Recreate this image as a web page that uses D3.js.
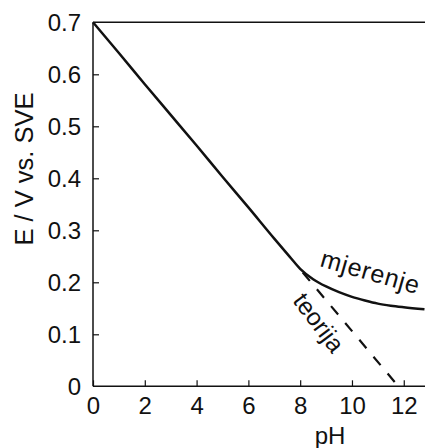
<!DOCTYPE html>
<html><head><meta charset="utf-8">
<script src="https://cdn.jsdelivr.net/npm/d3@7/dist/d3.min.js"></script>
<style>html,body{margin:0;padding:0;background:#fff;}svg{display:block;}</style>
</head><body>
<script>
const measuredPH = [0, 1, 2, 3, 4, 5, 6, 7, 7.6, 8, 8.5, 9, 9.5, 10, 10.5, 11, 11.5, 12, 12.8];
const measuredE  = [0.700, 0.641, 0.581, 0.522, 0.463, 0.403, 0.344, 0.284, 0.249, 0.226, 0.206, 0.192, 0.181, 0.172, 0.165, 0.159, 0.155, 0.152, 0.148];
const theoryPH = [8.1, 11.79];
const theoryE  = [0.219, 0.0];
const xTicks = [0, 2, 4, 6, 8, 10, 12];
const yTicks = [0, 0.1, 0.2, 0.3, 0.4, 0.5, 0.6, 0.7];
const yTickLabels = ["0", "0.1", "0.2", "0.3", "0.4", "0.5", "0.6", "0.7"];

const W = 425, H = 448;
const svg = d3.select("body").append("svg").attr("width", W).attr("height", H);
const font = "Liberation Sans, Arial, Helvetica, sans-serif";

const x = d3.scaleLinear().domain([0, 12.82]).range([93, 425]);
const y = d3.scaleLinear().domain([0, 0.7]).range([386.3, 22.3]);

// axes
const xAxis = d3.axisBottom(x).tickValues(xTicks).tickSize(-6).tickPadding(10).tickFormat(d3.format("d"));
const gx = svg.append("g").attr("transform", `translate(0,${y(0)})`).call(xAxis);
gx.select(".domain").attr("stroke", "#111").attr("stroke-width", 1.5).attr("d", `M${x(0)},0H${W}`);
gx.selectAll(".tick line").attr("stroke", "#111").attr("stroke-width", 1.2);
gx.selectAll(".tick text").attr("font-family", font).attr("font-size", 24).attr("fill", "#111").attr("dy", "0.72em");

const yAxis = d3.axisLeft(y).tickValues(yTicks).tickSize(-6).tickPadding(12).tickFormat((d, i) => yTickLabels[i]);
const gy = svg.append("g").attr("transform", `translate(${x(0)},0)`).call(yAxis);
gy.select(".domain").attr("stroke", "#111").attr("stroke-width", 1.5).attr("d", `M0,${y(0)}V${y(0.7)}`);
gy.selectAll(".tick line").attr("stroke", "#111").attr("stroke-width", 1.2);
gy.selectAll(".tick text").attr("font-family", font).attr("font-size", 24).attr("fill", "#111").attr("dy", "0.35em");
gy.selectAll(".tick").filter(d => d === 0).select("line").remove();
gy.selectAll(".tick").filter(d => d === 0.7).select("line").remove();

// top frame line
svg.append("line").attr("x1", x(0)).attr("x2", W).attr("y1", y(0.7)).attr("y2", y(0.7))
  .attr("stroke", "#111").attr("stroke-width", 1.5);

// measured curve
const measured = measuredPH.map((p, i) => [p, measuredE[i]]);
svg.append("path").datum(measured)
  .attr("d", d3.line().x(d => x(d[0])).y(d => y(d[1])).curve(d3.curveMonotoneX))
  .attr("fill", "none").attr("stroke", "#111").attr("stroke-width", 2.5);

// theory dashed
const theory = theoryPH.map((p, i) => [p, theoryE[i]]);
svg.append("path").datum(theory)
  .attr("d", d3.line().x(d => x(d[0])).y(d => y(d[1])))
  .attr("fill", "none").attr("stroke", "#111").attr("stroke-width", 2.2)
  .attr("stroke-dasharray", "11,11");

// labels
svg.append("text").attr("font-family", font).attr("font-size", 25).attr("fill", "#111")
  .attr("letter-spacing", 0.8)
  .attr("transform", `translate(319,266) rotate(16)`).text("mjerenje");
svg.append("text").attr("font-family", font).attr("font-size", 24.5).attr("fill", "#111")
  .attr("transform", `translate(292,301) rotate(53)`).text("teorija");

svg.append("text").attr("font-family", font).attr("font-size", 24).attr("fill", "#111")
  .attr("x", 330).attr("y", 444).attr("text-anchor", "middle").text("pH");
svg.append("text").attr("font-family", font).attr("font-size", 25.5).attr("fill", "#111")
  .attr("transform", `translate(33,169) rotate(-90)`).attr("text-anchor", "middle").text("E / V vs. SVE");
</script>
</body></html>
